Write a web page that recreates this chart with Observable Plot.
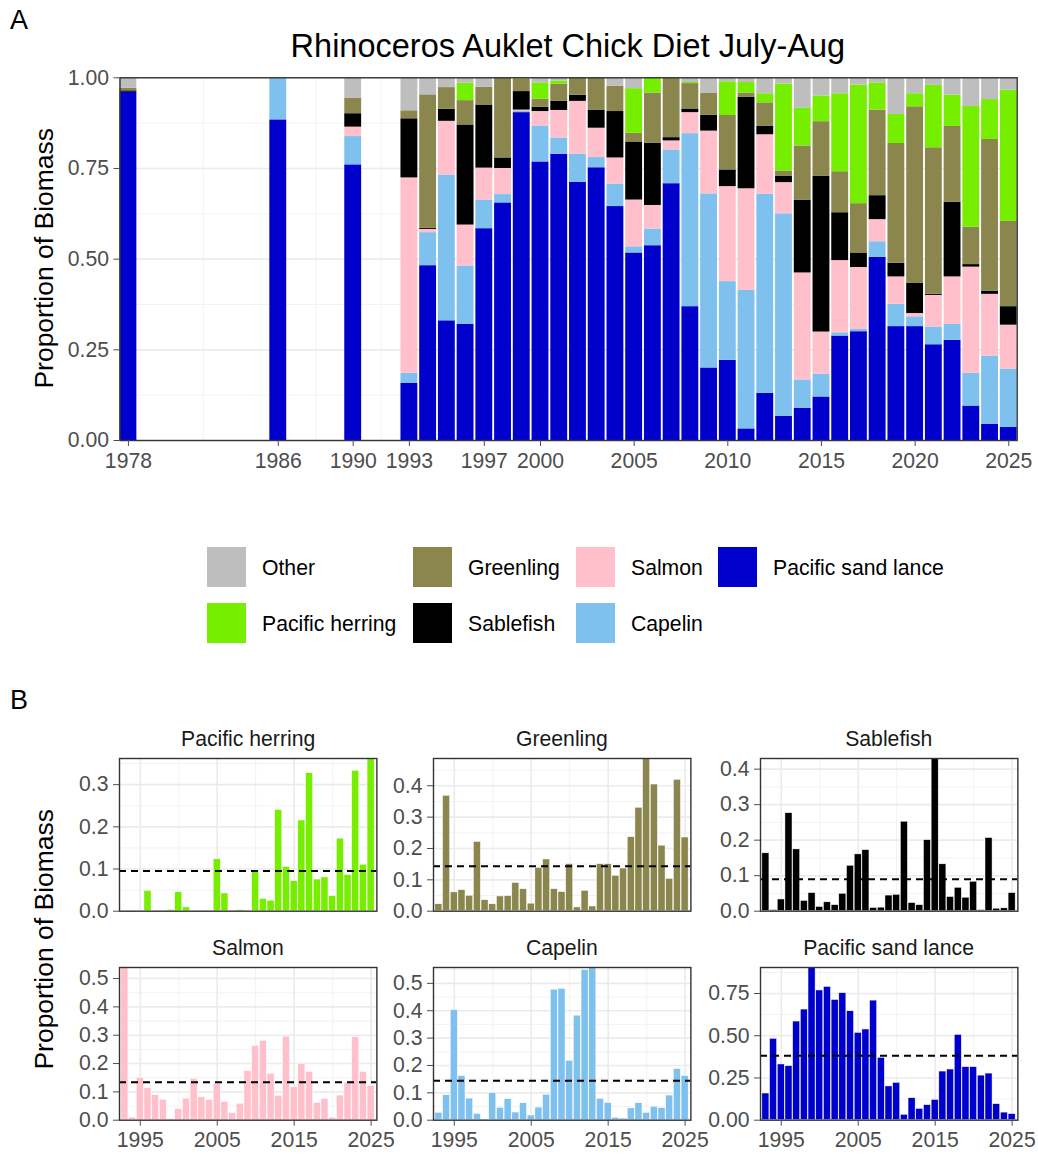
<!DOCTYPE html>
<html><head><meta charset="utf-8">
<script src="https://cdn.jsdelivr.net/npm/d3@7"></script>
<script src="https://cdn.jsdelivr.net/npm/@observablehq/plot@0.6"></script>
<style>
body{margin:0;background:#fff;font-family:"Liberation Sans",Arial,sans-serif;}
#root{position:relative;width:1038px;height:1154px;overflow:hidden;background:#fff;}
.t{position:absolute;white-space:nowrap;font-family:"Liberation Sans",Arial,sans-serif;}
.p{position:absolute;}
</style></head><body><div id="root"></div>
<script>
// ---------- DATA ----------
const years = [1978,1986,1990,1993,1994,1995,1996,1997,1998,1999,2000,2001,2002,2003,2004,2005,2006,2007,2008,2009,2010,2011,2012,2013,2014,2015,2016,2017,2018,2019,2020,2021,2022,2023,2024,2025];
const sandLance = [0.96,0.884,0.76,0.158,0.482,0.33,0.32,0.584,0.655,0.904,0.768,0.789,0.712,0.752,0.645,0.517,0.537,0.708,0.369,0.2,0.221,0.032,0.13,0.067,0.089,0.12,0.288,0.3,0.505,0.314,0.314,0.264,0.276,0.095,0.045,0.036];
const capelin = [0,0.116,0.078,0.027,0.091,0.402,0.161,0.079,0.023,0.003,0.099,0.045,0.077,0.028,0.062,0.017,0.046,0.093,0.477,0.48,0.217,0.382,0.549,0.558,0.078,0.063,0.009,0.006,0.043,0.062,0.027,0.049,0.044,0.09,0.187,0.161];
const salmon = [0,0,0.026,0.539,0.009,0.148,0.113,0.088,0.072,0.004,0.04,0.076,0.146,0.081,0.072,0.129,0.065,0.025,0.058,0.173,0.262,0.28,0.164,0.086,0.295,0.116,0.199,0.171,0.061,0.075,0.009,0.087,0.131,0.293,0.171,0.121];
const sablefish = [0.004,0,0.037,0.163,0.003,0.033,0.276,0.174,0.029,0.051,0.012,0.025,0.017,0.049,0.128,0.16,0.172,0.009,0.01,0.044,0.046,0.252,0.023,0.017,0.2,0.43,0.132,0.04,0.066,0.038,0.083,0.003,0.206,0.007,0.008,0.051];
const greenling = [0.007,0,0.043,0.022,0.368,0.06,0.067,0.049,0.221,0.035,0.022,0.047,0.048,0.09,0.07,0.024,0.138,0.165,0.07,0.061,0.15,0.012,0.065,0.015,0.15,0.15,0.113,0.136,0.236,0.33,0.487,0.404,0.209,0.103,0.419,0.235];
const herring = [0,0,0,0,0,0,0.048,0,0,0.003,0.045,0.009,0,0,0,0.123,0.042,0,0.003,0,0.093,0.029,0.025,0.24,0.105,0.071,0.215,0.327,0.075,0.08,0.036,0.172,0.086,0.333,0.11,0.362];
const other = [0.029,0,0.056,0.091,0.047,0.027,0.015,0.026,0,0,0.014,0.009,0,0,0.023,0.03,0,0,0.013,0.042,0.011,0.013,0.044,0.017,0.083,0.05,0.044,0.02,0.014,0.101,0.044,0.021,0.048,0.079,0.06,0.034];

// stack order bottom -> top
const stackNames = ["Pacific sand lance","Capelin","Salmon","Sablefish","Greenling","Pacific herring","Other"];
const stackSeries = [sandLance, capelin, salmon, sablefish, greenling, herring, other];
const colorNames = ["Other","Pacific herring","Greenling","Sablefish","Salmon","Capelin","Pacific sand lance"];
const colorValues = ["#BEBEBE","#76EE00","#8B864E","#000000","#FFC0CB","#7EC0EE","#0000CD"];

const xBreaksA = [1978,1986,1990,1993,1997,2000,2005,2010,2015,2020,2025];
const yBreaksA = [0,0.25,0.5,0.75,1];

// panel B
const facetNames = ["Pacific herring","Greenling","Sablefish","Salmon","Capelin","Pacific sand lance"];
const facetSeries = [herring, greenling, sablefish, salmon, capelin, sandLance];
const facetMeans = [0.095,0.143,0.09,0.134,0.144,0.382];
const facetYTicks = [[0,0.1,0.2,0.3],[0,0.1,0.2,0.3,0.4],[0,0.1,0.2,0.3,0.4],[0,0.1,0.2,0.3,0.4,0.5],[0,0.1,0.2,0.3,0.4,0.5],[0,0.25,0.5,0.75]];
const facetYFormat = [".1f",".1f",".1f",".1f",".1f",".2f"];
const xBreaksB = [1995,2005,2015,2025];
const firstYearB = 1993;

// ---------- HELPERS ----------
const root = document.getElementById("root");
const FONT = "'Liberation Sans', Arial, sans-serif";
const colorOf = Object.fromEntries(colorNames.map((n,i)=>[n,colorValues[i]]));
function text(s, {x, y, size, color="#000", anchor="start", rotate=false}) {
  const d = document.createElement("div");
  d.className = "t";
  d.textContent = s;
  d.style.fontSize = size + "px";
  d.style.color = color;
  d.style.lineHeight = "1";
  root.appendChild(d);
  const w = d.offsetWidth, h = d.offsetHeight;
  let left = anchor === "middle" ? x - w/2 : anchor === "end" ? x - w : x;
  d.style.left = left + "px";
  d.style.top = (y - h/2) + "px";
  if (rotate) { d.style.left = (x - w/2) + "px"; d.style.transform = "rotate(-90deg)"; }
}
function mids(arr) { const m = []; for (let i=0;i<arr.length-1;i++) m.push((arr[i]+arr[i+1])/2); return m; }
function place(svg, left, top) { svg.classList.add("p"); svg.style.left = left+"px"; svg.style.top = top+"px"; root.appendChild(svg); }

// ---------- PANEL A ----------
const rowsA = [];
years.forEach((yr, i) => {
  let acc = 0;
  stackSeries.forEach((s, k) => {
    const v = s[i];
    rowsA.push({year: yr, species: stackNames[k], y1: acc, y2: acc + v});
    acc += v;
  });
});
const A = {left: 119.5, right: 1016.7, top: 77.3, bottom: 440};
const xMinorA = mids(xBreaksA);
const yMinorA = mids(yBreaksA);
const plotA = Plot.plot({
  width: 1038, height: 500,
  marginLeft: A.left, marginRight: 1038 - A.right, marginTop: A.top, marginBottom: 500 - A.bottom,
  x: {domain: [1977.55, 2025.45]},
  y: {domain: [0, 1]},
  style: {fontFamily: FONT, fontSize: "21.2px", color: "#4D4D4D", background: "transparent"},
  marks: [
    Plot.ruleY(yMinorA, {stroke: "#F2F2F2", strokeWidth: 1}),
    Plot.ruleX(xMinorA, {stroke: "#F2F2F2", strokeWidth: 1}),
    Plot.ruleY(yBreaksA, {stroke: "#EBEBEB", strokeWidth: 1.6}),
    Plot.ruleX(xBreaksA, {stroke: "#EBEBEB", strokeWidth: 1.6}),
    Plot.rect(rowsA, {x1: d => d.year - 0.45, x2: d => d.year + 0.45, y1: "y1", y2: "y2", fill: d => colorOf[d.species]}),
    Plot.frame({stroke: "#333333", strokeWidth: 1.4}),
    Plot.axisX({ticks: xBreaksA, tickFormat: d => String(d), tickSize: 6, tickPadding: 6, label: null, fontSize: 21.2}),
    Plot.axisY({ticks: yBreaksA, tickFormat: d3.format(".2f"), tickSize: 6, tickPadding: 5, label: null, fontSize: 21.2})
  ]
});
place(plotA, 0, 0);

text("A", {x: 10, y: 20, size: 27});
text("Rhinoceros Auklet Chick Diet July-Aug", {x: (A.left + A.right)/2, y: 46, size: 32.5, anchor: "middle"});
text("Proportion of Biomass", {x: 44, y: (A.top + A.bottom)/2, size: 26.5, rotate: true});

// ---------- LEGEND ----------
const legendCols = [207, 413, 576, 718];
const legendRows = [567, 623];
colorNames.forEach((n, i) => {
  const col = Math.floor(i / 2), row = i % 2;
  const sq = document.createElement("div");
  sq.className = "p";
  sq.style.left = legendCols[col] + "px";
  sq.style.top = (legendRows[row] - 20) + "px";
  sq.style.width = "39px"; sq.style.height = "40px";
  sq.style.background = colorValues[i];
  root.appendChild(sq);
  text(n, {x: legendCols[col] + 55, y: legendRows[row], size: 21.2, color: "#000"});
});

// ---------- PANEL B ----------
text("B", {x: 10, y: 700, size: 27});
const colX = [119.3, 433.3, 760];
const rowY = [758.3, 967.3];
const PW = 257.4, PH = 152.7;
const ml = 70, mr = 6, mt = 4, mb = 42;
const xMinorB = [2000, 2010, 2020];
facetNames.forEach((name, k) => {
  const col = k % 3, row = Math.floor(k / 3);
  const vals = facetSeries[k].slice(3);
  const rows = vals.map((v, i) => ({year: firstYearB + i, value: v}));
  const ymax = d3.max(vals);
  const majors = facetYTicks[k];
  const step = majors[1] - majors[0];
  const minors = mids(majors.concat([majors[majors.length-1] + step])).filter(v => v <= ymax);
  const marks = [
    Plot.ruleY(minors, {stroke: "#F2F2F2", strokeWidth: 1}),
    Plot.ruleX(xMinorB, {stroke: "#F2F2F2", strokeWidth: 1}),
    Plot.ruleY(majors, {stroke: "#EBEBEB", strokeWidth: 1.6}),
    Plot.ruleX(xBreaksB, {stroke: "#EBEBEB", strokeWidth: 1.6}),
    Plot.rect(rows, {x1: d => d.year - 0.46, x2: d => d.year + 0.46, y1: 0, y2: "value", fill: colorOf[name], stroke: "white", strokeWidth: 0.5}),
    Plot.ruleY([facetMeans[k]], {stroke: "black", strokeWidth: 2, strokeDasharray: "7,5"}),
    Plot.frame({stroke: "#333333", strokeWidth: 1.4}),
    Plot.axisY({ticks: majors, tickFormat: d3.format(facetYFormat[k]), tickSize: 6, tickPadding: 5, label: null, fontSize: 21.2})
  ];
  if (row === 1) marks.push(Plot.axisX({ticks: xBreaksB, tickFormat: d => String(d), tickSize: 6, tickPadding: 6, label: null, fontSize: 21.2}));
  else marks.push(Plot.axisX({ticks: [], label: null}));
  const p = Plot.plot({
    width: ml + PW + mr, height: mt + PH + mb,
    marginLeft: ml, marginRight: mr, marginTop: mt, marginBottom: mb,
    x: {domain: [1992.3, 2025.75]},
    y: {domain: [0, ymax]},
    style: {fontFamily: FONT, fontSize: "21.2px", color: "#4D4D4D", background: "transparent", overflow: "visible"},
    marks
  });
  place(p, colX[col] - ml, rowY[row] - mt);
  text(name, {x: colX[col] + PW/2, y: rowY[row] - 20, size: 21.2, color: "#1A1A1A", anchor: "middle"});
});
text("Proportion of Biomass", {x: 44, y: (rowY[0] + rowY[1] + PH)/2, size: 26.5, rotate: true});
</script>
</body></html>
